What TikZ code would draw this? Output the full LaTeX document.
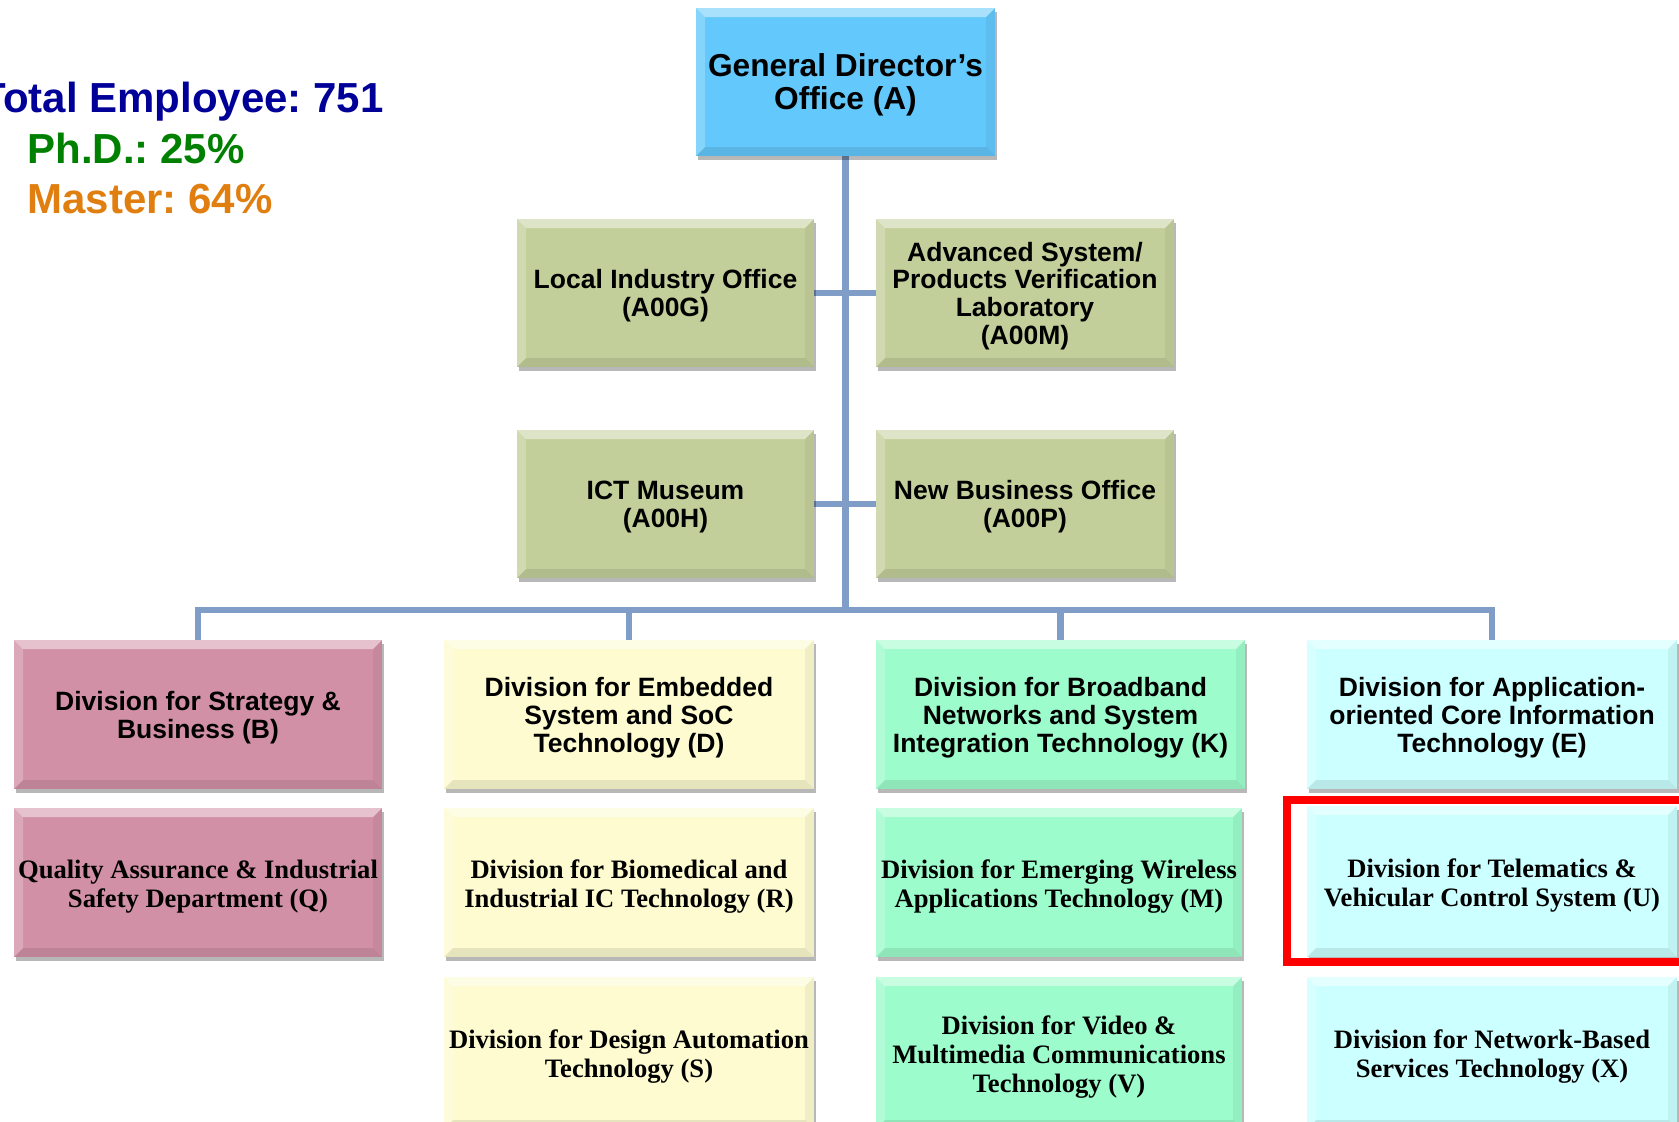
\documentclass[tikz,border=0pt]{standalone}
\usepackage{fontspec}
\setmainfont{Liberation Sans}
\newfontfamily\timesfam{Liberation Serif}
\usetikzlibrary{shadows}

\definecolor{dirblue}{HTML}{63C8FB}
\definecolor{olivebox}{HTML}{C3CF9A}
\definecolor{pinkbox}{HTML}{D190A6}
\definecolor{creambox}{HTML}{FDFBCF}
\definecolor{mintbox}{HTML}{9CFCCB}
\definecolor{cyanbox}{HTML}{CCFFFF}
\definecolor{linkblue}{HTML}{7F9DC6}
\definecolor{totalblue}{HTML}{000099}
\definecolor{phdgreen}{HTML}{008000}
\definecolor{masterorange}{HTML}{E07F10}
\definecolor{markred}{HTML}{FF0000}

\pgfdeclarelayer{background}
\pgfsetlayers{background,main}

\tikzset{
  unit/.style={inner sep=0pt, outer sep=0pt,
    drop shadow={shadow xshift=2pt, shadow yshift=-4pt, opacity=0.28, fill=black},
    path picture={
      % bevelled frame: light top/left, darker right/bottom
      \fill[white,opacity=0.45] (path picture bounding box.north west) -- (path picture bounding box.north east)
        -- ([xshift=-9pt,yshift=-9pt]path picture bounding box.north east) -- ([xshift=9pt,yshift=-9pt]path picture bounding box.north west) -- cycle;
      \fill[white,opacity=0.22] (path picture bounding box.north west) -- (path picture bounding box.south west)
        -- ([xshift=9pt,yshift=9pt]path picture bounding box.south west) -- ([xshift=9pt,yshift=-9pt]path picture bounding box.north west) -- cycle;
      \fill[black,opacity=0.05] (path picture bounding box.north east) -- (path picture bounding box.south east)
        -- ([xshift=-9pt,yshift=9pt]path picture bounding box.south east) -- ([xshift=-9pt,yshift=-9pt]path picture bounding box.north east) -- cycle;
      \fill[black,opacity=0.09] (path picture bounding box.south west) -- (path picture bounding box.south east)
        -- ([xshift=-9pt,yshift=9pt]path picture bounding box.south east) -- ([xshift=9pt,yshift=9pt]path picture bounding box.south west) -- cycle;
    }},
  label text/.style={inner sep=0pt, align=center, text=black},
  sanstext/.style={label text, yshift=-3pt, font=\fontsize{26.5}{27.8}\selectfont\bfseries},
  headtext/.style={label text, yshift=-2.5pt, font=\fontsize{31.7}{33.2}\selectfont\bfseries},
  seriftext/.style={label text, yshift=-4pt, font=\timesfam\fontsize{26.6}{28.9}\selectfont\bfseries},
  link/.style={draw=linkblue, line width=6.5pt},
  stat/.style={anchor=base west, font=\fontsize{42}{50}\selectfont\bfseries},
}

% \unitbox{text style}{name}{x1}{y1}{x2}{y2}{fill}{text}
\newcommand\unitbox[8]{%
  \node[unit,fill=#7,minimum width={#5-#3},minimum height={#6-#4}]
    (#2) at ({(#3+#5)/2},{(#4+#6)/2}) {};
  \node[#1] (#2-text) at (#2.center) {#8};}

\begin{document}
\frenchspacing
\begin{tikzpicture}[x=1pt,y=-1pt]
\useasboundingbox (0,0) rectangle (1679,1122);

% head office
\unitbox{headtext}{A}{696}{8}{995}{156}{dirblue}{General Director’s\\Office (A)}

% offices attached to the head office
\unitbox{sanstext}{G}{517}{219}{814}{367}{olivebox}{Local Industry Office\\(A00G)}
\unitbox{sanstext}{AM}{876}{219}{1174}{367}{olivebox}{Advanced System/\\Products Verification\\Laboratory\\(A00M)}
\unitbox{sanstext}{H}{517}{430}{814}{578}{olivebox}{ICT Museum\\(A00H)}
\unitbox{sanstext}{P}{876}{430}{1174}{578}{olivebox}{New Business Office\\(A00P)}

% divisions, first row
\unitbox{sanstext}{B}{14}{640}{382}{789}{pinkbox}{Division for Strategy \&\\Business (B)}
\unitbox{sanstext}{D}{444}{640}{814}{789}{creambox}{Division for Embedded\\System and SoC\\Technology (D)}
\unitbox{sanstext}{K}{876}{640}{1245}{789}{mintbox}{Division for Broadband\\Networks and System\\Integration Technology (K)}
\unitbox{sanstext}{E}{1307}{640}{1677}{789}{cyanbox}{Division for Application-\\oriented Core Information\\Technology (E)}

% second row
\unitbox{seriftext}{Q}{14}{808}{382}{957}{pinkbox}{Quality Assurance \& Industrial\\Safety Department (Q)}
\unitbox{seriftext}{R}{444}{808}{814}{957}{creambox}{Division for Biomedical and\\Industrial IC Technology (R)}
\unitbox{seriftext}{M}{876}{808}{1242}{957}{mintbox}{Division for Emerging Wireless\\Applications Technology (M)}
\unitbox{seriftext}{U}{1307}{806}{1677}{957}{cyanbox}{Division for Telematics \&\\Vehicular Control System (U)}

% third row
\unitbox{seriftext}{S}{444}{977}{814}{1129}{creambox}{Division for Design Automation\\Technology (S)}
\unitbox{seriftext}{V}{876}{977}{1242}{1129}{mintbox}{Division for Video \&\\Multimedia Communications\\Technology (V)}
\unitbox{seriftext}{X}{1307}{977}{1677}{1129}{cyanbox}{Division for Network-Based\\Services Technology (X)}

% connectors
\coordinate (bus) at (846,610);
\begin{pgfonlayer}{background}
  \draw[link] (A.south) -- (A.south |- bus);
  \draw[link] (G.east) -- (AM.west);
  \draw[link] (H.east) -- (P.west);
  \draw[link] (B.north) -- (B.north |- bus) -- (E.north |- bus) -- (E.north);
  \draw[link] (D.north) -- (D.north |- bus);
  \draw[link] (K.north) -- (K.north |- bus);
\end{pgfonlayer}

% highlight frame
\draw[draw=markred, line width=8pt] ([xshift=-20pt,yshift=6pt]U.north west) rectangle ([xshift=30pt,yshift=-5pt]U.south east);

% staff figures
\node[stat, text=totalblue] (total) at (-23,112.7) {Total Employee: 751};
\node[stat, text=phdgreen] (phd) at (24,163) {Ph.D.: 25\%};
\node[stat, text=masterorange] (master) at (24,213) {Master: 64\%};
\end{tikzpicture}
\end{document}
